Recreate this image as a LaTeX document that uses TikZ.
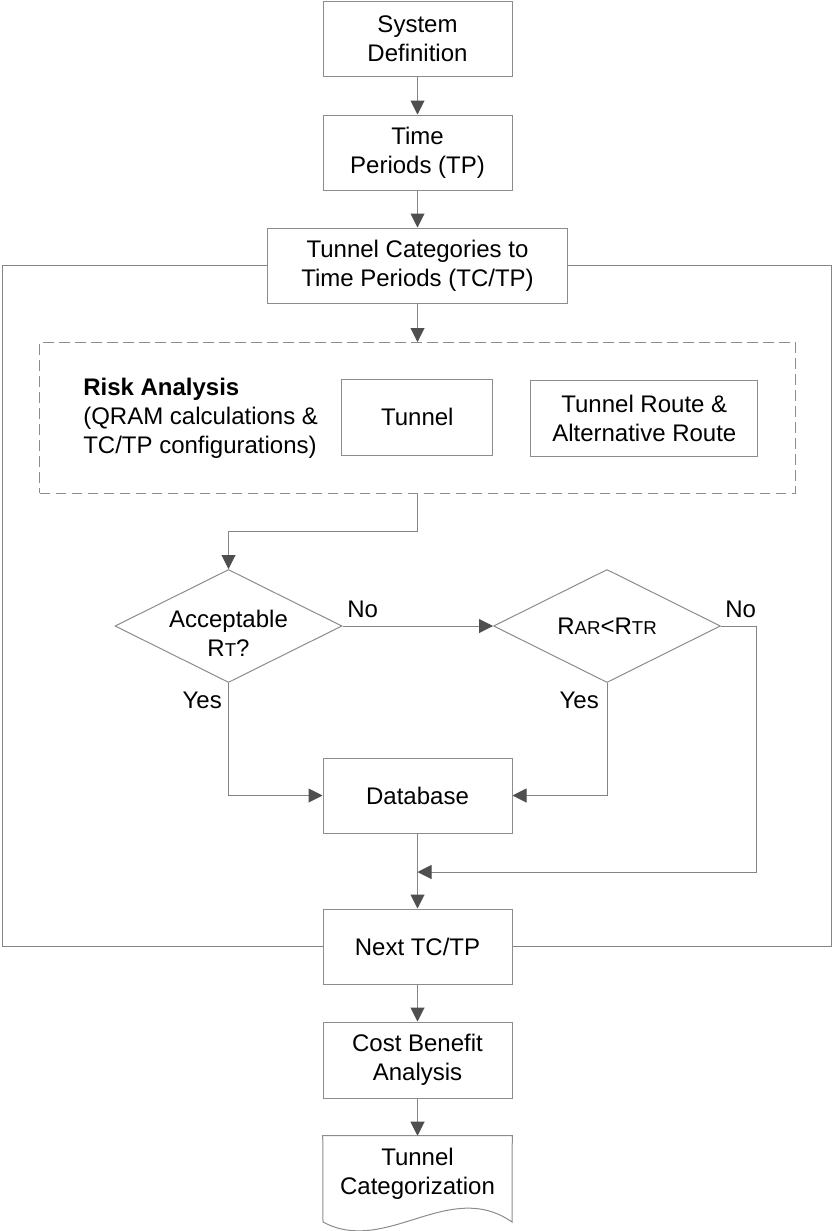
\documentclass[tikz,border=0pt]{standalone}
\usepackage{fontspec}
\setmainfont{Liberation Sans}
\usetikzlibrary{arrows.meta,shapes.geometric}
\definecolor{boxc}{HTML}{8C8C8C}
\definecolor{linec}{HTML}{858585}
\definecolor{tipc}{HTML}{4F4F4F}
\newcommand\smalllet[1]{{\fontsize{14}{14}\selectfont #1}}
\begin{document}
\begin{tikzpicture}[x=0.75pt,y=-0.75pt,
  font=\fontsize{18}{21.75}\selectfont,
  box/.style={draw=boxc, line width=0.75pt, minimum width=189*0.75pt, minimum height=75*0.75pt, inner sep=0pt, align=center},
  dia/.style={draw=boxc, line width=0.75pt, shape=diamond, aspect=2, minimum width=227*0.75pt, minimum height=113*0.75pt, inner sep=0pt},
  conn/.style={draw=linec, line width=0.75pt},
  arr/.style={conn, -{Triangle[length=10.5pt,width=10.5pt,color=tipc]}},
  lbl/.style={inner sep=0pt}]
\path[fill=white, use as bounding box] (0,0) rectangle (834,1231);

% main column
\node[box] (sys) at (417.5,39) {System\\Definition};
\node[box] (tp) at (417.5,152.5) {Time\\Periods (TP)};
\node[box, minimum width=300*0.75pt] (tc) at (417.5,265.5) {Tunnel Categories to\\Time Periods (TC/TP)};

% risk analysis group
\node[draw=boxc, line width=0.75pt, dash pattern=on 8pt off 4pt, minimum width=756*0.75pt, minimum height=150.5*0.75pt, inner sep=0pt] (risk) at (417.5,417.75) {};
\node[anchor=west, align=left, inner sep=0pt] (risktxt) at (83,418) {\textbf{Risk Analysis}\\(QRAM calculations \&\\TC/TP configurations)};
\node[box, minimum width=151*0.75pt, minimum height=76.5*0.75pt] (tun) at (417.3,417.3) {Tunnel};
\node[box, minimum width=226.7*0.75pt, minimum height=76*0.75pt] (route) at (644.3,418) {Tunnel Route \&\\Alternative Route};

% decisions
\node[dia] (d1) at (228.5,626) {};
\node[inner sep=0pt, align=center] (d1t) at (228.5,633.5) {Acceptable\\R\smalllet{T}?};
\node[dia] (d2) at (607,626) {\raisebox{-3pt}{R\smalllet{AR}<R\smalllet{TR}}};

\node[lbl, anchor=base west] (no1) at (347,617) {No};
\node[lbl, anchor=base east] (yes1) at (222,708) {Yes};
\node[lbl, anchor=base west] (no2) at (725,617) {No};
\node[lbl, anchor=base east] (yes2) at (599,708) {Yes};

\node[box] (db) at (417.5,795.5) {Database};
\node[box] (nxt) at (417.5,946.5) {Next TC/TP};
\node[box, minimum height=76*0.75pt] (cost) at (417.5,1060) {Cost Benefit\\Analysis};
\node[inner sep=0pt, minimum width=189*0.75pt, minimum height=75*0.75pt, align=center] (doc) at (417.5,1173.5) {Tunnel\\Categorization};
\draw[draw=boxc, line width=0.75pt] (323,1222) -- (doc.north west) -- (doc.north east) -- (512,1222)
  .. controls (449,1178) and (386,1256) .. (323,1222) -- cycle;

% connectors
\coordinate (j) at (417.5,872);
\draw[arr] (sys.south) -- (tp.north);
\draw[arr] (tp.south) -- (tc.north);
\draw[arr] (tc.south) -- (risk.north);
\draw[arr] (risk.south) -- ++(0,38) -| (d1.north);
\draw[arr] (d1.east) -- (d2.west);
\draw[arr] (d1.south) |- (db.west);
\draw[arr] (d2.south) |- (db.east);
\draw[arr] (d2.east) -| (756,872) -- (j);
\draw[arr] (db.south) -- (nxt.north);
\draw[conn] (tc.west) -| (2.5,946.5) -- (nxt.west);
\draw[conn] (tc.east) -| (831.5,946.5) -- (nxt.east);
\draw[arr] (nxt.south) -- (cost.north);
\draw[arr] (cost.south) -- (doc.north);
\end{tikzpicture}
\end{document}
